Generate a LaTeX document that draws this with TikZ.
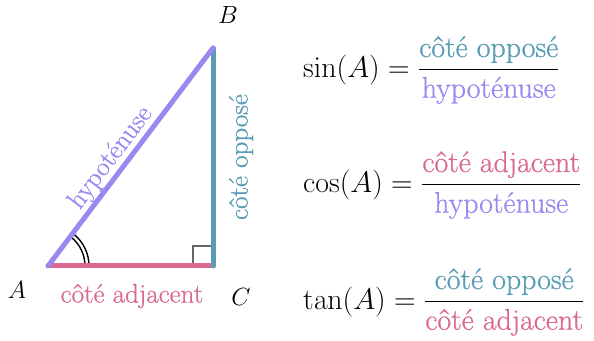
\documentclass[tikz,border=0pt]{standalone}
\usepackage{amsmath}
\usepackage[no-math]{fontspec}
\setmainfont[FakeBold=0.6]{Latin Modern Roman}
\usepackage{xcolor}
\definecolor{hypcol}{RGB}{155,135,240}
\definecolor{oppcol}{RGB}{88,155,178}
\definecolor{adjcol}{RGB}{218,104,146}
\usetikzlibrary{positioning}

\begin{document}
\begin{tikzpicture}[
    x=1pt,
    y=1pt,
    side/.style={line width=5pt, line cap=round},
    lbl/.style={font=\fontsize{27}{32}\selectfont, inner sep=0pt},
    eq/.style={font=\fontsize{24.88}{30}\selectfont, anchor=west, inner sep=0pt, scale=1.2, transform shape}
]

\useasboundingbox (0,0) rectangle (594,340);

% Vertices
\coordinate (A) at (48,74);
\coordinate (C) at (213,74);
\coordinate (B) at (213,292);

% Right angle mark
\draw[gray!80!black, line width=1.2pt] (193,74) -- (193,94) -- (213,94);

% Angle mark at A
\draw[line width=1.4pt] ([shift={(0:37)}]A) arc (0:52:37);
\draw[line width=1.4pt] ([shift={(0:41)}]A) arc (0:52:41);

% Sides
\draw[side, adjcol] (A) -- (C);
\draw[side, oppcol] (C) -- (B);
\draw[side, hypcol] (A) -- (B);

% Side labels
\node[lbl, hypcol, rotate=52.9] (hyp) at (111,182) {hypoténuse};
\node[lbl, oppcol, rotate=90] (opp) at (241,183) {côté opposé};
\node[lbl, adjcol] (adj) at (132,44) {côté adjacent};

% Vertex labels
\node[lbl] (lA) at (17,50) {$A$};
\node[lbl] (lB) at (228,325) {$B$};
\node[lbl] (lC) at (241,43) {$C$};

% Ratios
\node[eq] (eqsin) at (303,270) {$\sin(A) = \dfrac{\textcolor{oppcol}{\text{côté opposé}}}{\textcolor{hypcol}{\text{hypoténuse}}}$};
\node[eq] (eqcos) at (303,155) {$\cos(A) = \dfrac{\textcolor{adjcol}{\text{côté adjacent}}}{\textcolor{hypcol}{\text{hypoténuse}}}$};
\node[eq] (eqtan) at (303,38) {$\tan(A) = \dfrac{\textcolor{oppcol}{\text{côté opposé}}}{\textcolor{adjcol}{\text{côté adjacent}}}$};

\end{tikzpicture}
\end{document}
